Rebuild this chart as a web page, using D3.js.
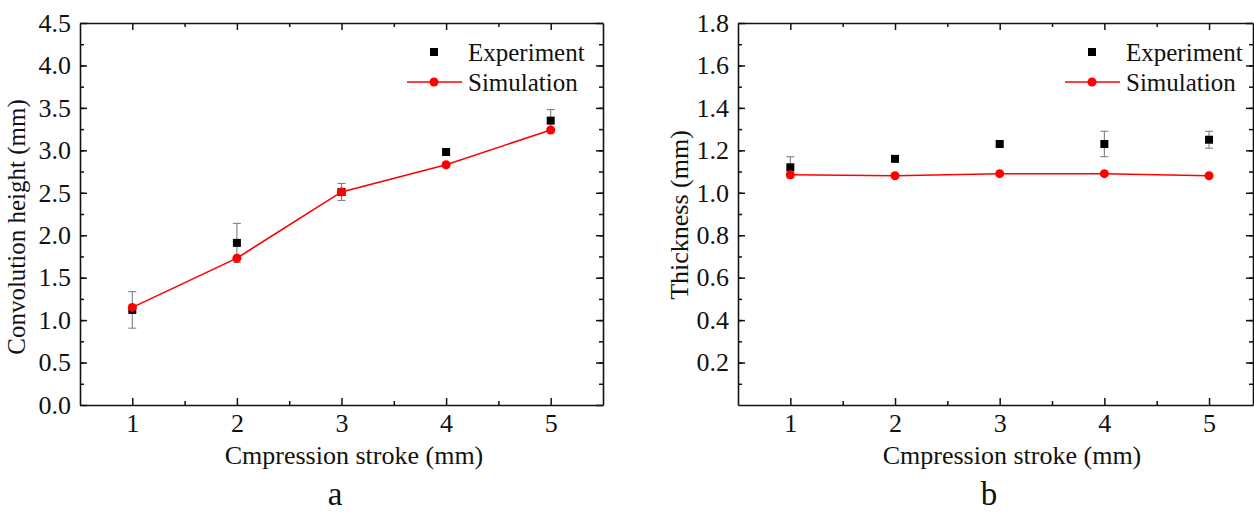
<!DOCTYPE html>
<html>
<head>
<meta charset="utf-8">
<script src="https://cdn.jsdelivr.net/npm/d3@7"></script>
<style>
  body { margin: 0; background: #fff; }
  svg { display: block; }
  text { font-family: "Liberation Serif", "Times New Roman", serif; fill: #111; }
</style>
</head>
<body>
<div id="chart"></div>
<script>

// data
var strokes = [1, 2, 3, 4, 5];

var heightExp    = [1.12, 1.91, 2.51, 2.98, 3.35];
var heightExpErr = [0.215, 0.23, 0.10, 0.02, 0.13];
var heightSim    = [1.15, 1.73, 2.51, 2.83, 3.24];

var thickExp    = [1.12, 1.16, 1.23, 1.23, 1.25];
var thickExpErr = [0.05, 0.01, 0.01, 0.06, 0.04];
var thickSim    = [1.085, 1.08, 1.09, 1.09, 1.08];

var heightTicks = [0, 0.5, 1, 1.5, 2, 2.5, 3, 3.5, 4, 4.5];
var thickTicks  = [0.2, 0.4, 0.6, 0.8, 1.0, 1.2, 1.4, 1.6, 1.8];

var legendNames = ["Experiment", "Simulation"];
var xTitle = "Cmpression stroke (mm)";


var W = 1254, H = 514;
var svg = d3.select("#chart").append("svg")
    .attr("width", W)
    .attr("height", H);

function panel(cfg) {
  var x = d3.scaleLinear().domain(cfg.xDomain).range([cfg.left, cfg.right]);
  var y = d3.scaleLinear().domain(cfg.yDomain).range([405, 23]);
  var g = svg.append("g");

  var minorX = d3.range(1.5, 5.01, 1);
  var minorY = d3.range(0, cfg.yDomain[1] + 1e-9, cfg.yMinor)
      .filter(function(v){ return v > 0 && v < cfg.yDomain[1] - 1e-9; });

  function styleAxis(sel) {
    sel.selectAll("path").attr("stroke", "#111").attr("stroke-width", 1.6);
    sel.selectAll("line").attr("stroke", "#111").attr("stroke-width", 1.5);
    sel.selectAll("text").style("font-family", "'Liberation Serif', 'Times New Roman', serif")
      .style("font-size", "26px").attr("fill", "#111");
  }

  // bottom
  g.append("g").attr("transform", "translate(0,405)")
    .call(d3.axisBottom(x).tickValues(strokes).tickFormat(d3.format("d"))
      .tickSizeInner(-7).tickSizeOuter(0).tickPadding(9))
    .call(styleAxis);
  g.append("g").attr("transform", "translate(0,405)")
    .call(d3.axisBottom(x).tickValues(minorX).tickFormat("")
      .tickSizeInner(-4).tickSizeOuter(0))
    .call(styleAxis).select("path").remove();

  // top
  g.append("g").attr("transform", "translate(0,23)")
    .call(d3.axisTop(x).tickValues(strokes).tickFormat("")
      .tickSizeInner(-7).tickSizeOuter(0))
    .call(styleAxis);
  g.append("g").attr("transform", "translate(0,23)")
    .call(d3.axisTop(x).tickValues(minorX).tickFormat("")
      .tickSizeInner(-4).tickSizeOuter(0))
    .call(styleAxis).select("path").remove();

  // left
  g.append("g").attr("transform", "translate(" + cfg.left + ",0)")
    .call(d3.axisLeft(y).tickValues(cfg.yTicks).tickFormat(d3.format(".1f"))
      .tickSizeInner(-7).tickSizeOuter(0).tickPadding(9))
    .call(styleAxis);
  g.append("g").attr("transform", "translate(" + cfg.left + ",0)")
    .call(d3.axisLeft(y).tickValues(minorY).tickFormat("")
      .tickSizeInner(-4).tickSizeOuter(0))
    .call(styleAxis).select("path").remove();

  // right
  g.append("g").attr("transform", "translate(" + cfg.right + ",0)")
    .call(d3.axisRight(y).tickValues(cfg.yTicks).tickFormat("")
      .tickSizeInner(-7).tickSizeOuter(0))
    .call(styleAxis);
  g.append("g").attr("transform", "translate(" + cfg.right + ",0)")
    .call(d3.axisRight(y).tickValues(minorY).tickFormat("")
      .tickSizeInner(-4).tickSizeOuter(0))
    .call(styleAxis).select("path").remove();

  // error bars
  var eb = g.append("g").attr("stroke", "#808080").attr("stroke-width", 1.1);
  strokes.forEach(function(s, i){
    var v = cfg.exp[i], e = cfg.err[i];
    var cx = x(s);
    eb.append("line").attr("x1", cx).attr("x2", cx).attr("y1", y(v - e)).attr("y2", y(v + e));
    eb.append("line").attr("x1", cx - 4).attr("x2", cx + 4).attr("y1", y(v - e)).attr("y2", y(v - e));
    eb.append("line").attr("x1", cx - 4).attr("x2", cx + 4).attr("y1", y(v + e)).attr("y2", y(v + e));
  });

  // experiment squares
  g.selectAll("rect.exp").data(cfg.exp).enter().append("rect")
    .attr("class", "exp")
    .attr("x", function(d, i){ return x(strokes[i]) - 4; })
    .attr("y", function(d){ return y(d) - 4; })
    .attr("width", 8).attr("height", 8)
    .attr("fill", "#000");

  // simulation line + dots
  var line = d3.line()
    .x(function(d, i){ return x(strokes[i]); })
    .y(function(d){ return y(d); });
  g.append("path").datum(cfg.sim)
    .attr("d", line)
    .attr("fill", "none").attr("stroke", "#ff0000").attr("stroke-width", 1.6);
  g.selectAll("circle.sim").data(cfg.sim).enter().append("circle")
    .attr("class", "sim")
    .attr("cx", function(d, i){ return x(strokes[i]); })
    .attr("cy", function(d){ return y(d); })
    .attr("r", 4.5)
    .attr("fill", "#ff0000");

  // legend
  var lx = cfg.legendX;
  g.append("rect").attr("x", lx - 4).attr("y", 48).attr("width", 8).attr("height", 8).attr("fill", "#000");
  g.append("line").attr("x1", lx - 27).attr("x2", lx + 28).attr("y1", 82).attr("y2", 82)
    .attr("stroke", "#ff0000").attr("stroke-width", 1.6);
  g.append("circle").attr("cx", lx).attr("cy", 82).attr("r", 4.5).attr("fill", "#ff0000");
  g.append("text").attr("x", lx + 34).attr("y", 61).style("font-size", "25px").text(legendNames[0]);
  g.append("text").attr("x", lx + 34).attr("y", 91).style("font-size", "25px").text(legendNames[1]);

  // titles
  g.append("text")
    .attr("x", cfg.xTitleX).attr("y", 464)
    .attr("text-anchor", "middle").style("font-size", "26px")
    .text(xTitle);
  g.append("text")
    .attr("transform", "translate(" + cfg.yTitleX + "," + cfg.yTitleY + ") rotate(-90)")
    .attr("text-anchor", "middle").style("font-size", cfg.yTitleSize)
    .text(cfg.yTitle);
  g.append("text")
    .attr("x", cfg.tagX).attr("y", 505)
    .attr("text-anchor", "middle").style("font-size", "33px")
    .text(cfg.tag);
}

panel({
  left: 80, right: 603,
  xDomain: [0.5, 5.5], yDomain: [0, 4.5], yTicks: heightTicks, yMinor: 0.25,
  exp: heightExp, err: heightExpErr, sim: heightSim,
  legendX: 434, xTitleX: 354, yTitleX: 25, yTitleY: 227, yTitleSize: "25px",
  yTitle: "Convolution height (mm)", tag: "a", tagX: 335
});

panel({
  left: 738, right: 1253,
  xDomain: [0.5, 5.42], yDomain: [0, 1.8], yTicks: thickTicks, yMinor: 0.1,
  exp: thickExp, err: thickExpErr, sim: thickSim,
  legendX: 1092, xTitleX: 1012, yTitleX: 688, yTitleY: 215, yTitleSize: "26px",
  yTitle: "Thickness (mm)", tag: "b", tagX: 989
});

</script>
</body>
</html>
